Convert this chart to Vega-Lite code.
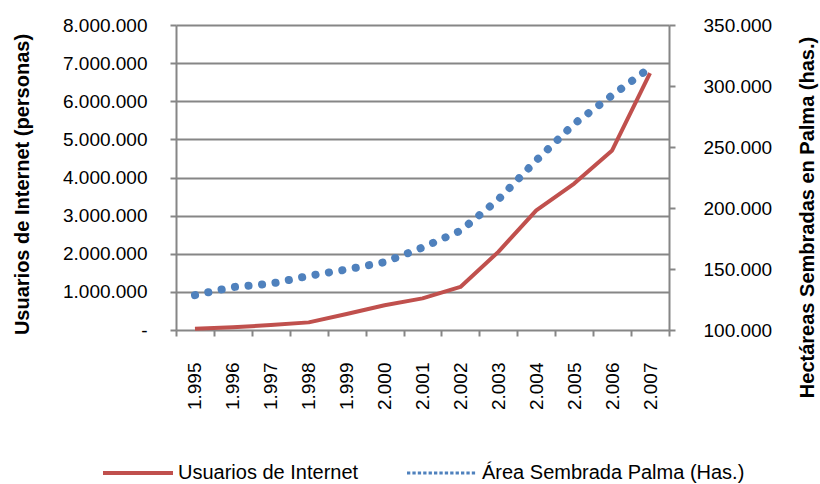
{
  "$schema": "https://vega.github.io/schema/vega-lite/v6.json",
  "width": 493,
  "height": 305,
  "autosize": {"type": "none"},
  "padding": {"left": 176, "top": 25, "right": 151, "bottom": 154},
  "background": "white",
  "config": {
    "font": "Liberation Sans",
    "view": {"stroke": null},
    "locale": {"number": {"decimal": ",", "thousands": ".", "grouping": [3], "currency": ["$", ""]}}
  },
  "data": {
    "values": [
      {"anio": "1.995", "serie": "Usuarios de Internet", "valor": 30000},
      {"anio": "1.996", "serie": "Usuarios de Internet", "valor": 70000},
      {"anio": "1.997", "serie": "Usuarios de Internet", "valor": 130000},
      {"anio": "1.998", "serie": "Usuarios de Internet", "valor": 200000},
      {"anio": "1.999", "serie": "Usuarios de Internet", "valor": 420000},
      {"anio": "2.000", "serie": "Usuarios de Internet", "valor": 650000},
      {"anio": "2.001", "serie": "Usuarios de Internet", "valor": 830000},
      {"anio": "2.002", "serie": "Usuarios de Internet", "valor": 1130000},
      {"anio": "2.003", "serie": "Usuarios de Internet", "valor": 2050000},
      {"anio": "2.004", "serie": "Usuarios de Internet", "valor": 3140000},
      {"anio": "2.005", "serie": "Usuarios de Internet", "valor": 3840000},
      {"anio": "2.006", "serie": "Usuarios de Internet", "valor": 4710000},
      {"anio": "2.007", "serie": "Usuarios de Internet", "valor": 6740000},
      {"anio": "1.995", "serie": "Área Sembrada Palma (Has.)", "valor": 128600},
      {"anio": "1.996", "serie": "Área Sembrada Palma (Has.)", "valor": 135200},
      {"anio": "1.997", "serie": "Área Sembrada Palma (Has.)", "valor": 137900},
      {"anio": "1.998", "serie": "Área Sembrada Palma (Has.)", "valor": 144400},
      {"anio": "1.999", "serie": "Área Sembrada Palma (Has.)", "valor": 149600},
      {"anio": "2.000", "serie": "Área Sembrada Palma (Has.)", "valor": 155600},
      {"anio": "2.001", "serie": "Área Sembrada Palma (Has.)", "valor": 167600},
      {"anio": "2.002", "serie": "Área Sembrada Palma (Has.)", "valor": 181300},
      {"anio": "2.003", "serie": "Área Sembrada Palma (Has.)", "valor": 207000},
      {"anio": "2.004", "serie": "Área Sembrada Palma (Has.)", "valor": 239000},
      {"anio": "2.005", "serie": "Área Sembrada Palma (Has.)", "valor": 269000},
      {"anio": "2.006", "serie": "Área Sembrada Palma (Has.)", "valor": 292300},
      {"anio": "2.007", "serie": "Área Sembrada Palma (Has.)", "valor": 315000}
    ]
  },
  "encoding": {
    "x": {
      "field": "anio",
      "type": "nominal",
      "sort": null,
      "scale": {"type": "band", "paddingInner": 0, "paddingOuter": 0},
      "bandPosition": 0.5,
      "axis": {
        "title": null,
        "labelAngle": -90,
        "labelFontSize": 19,
        "labelColor": "#000000",
        "labelPadding": 26,
        "tickBand": "extent",
        "tickSize": 6,
        "tickWidth": 2,
        "tickColor": "#868686",
        "domain": false,
        "grid": false
      }
    },
    "color": {
      "field": "serie",
      "type": "nominal",
      "scale": {
        "domain": ["Usuarios de Internet", "Área Sembrada Palma (Has.)"],
        "range": ["#C0504D", "#4F81BD"]
      },
      "legend": {
        "title": null,
        "orient": "none",
        "legendX": -48,
        "legendY": 438,
        "direction": "horizontal",
        "padding": 0,
        "columnPadding": 42,
        "symbolType": "stroke",
        "symbolSize": 4900,
        "symbolStrokeWidth": 4,
        "labelFontSize": 20,
        "labelColor": "#000000",
        "labelOffset": 30,
        "labelLimit": 400,
        "encode": {
          "symbols": {
            "update": {
              "strokeDash": {"signal": "datum.value == 'Usuarios de Internet' ? [200, 0] : [3.3, 2.1]"},
              "strokeWidth": {"signal": "datum.value == 'Usuarios de Internet' ? 4 : 3"}
            }
          }
        }
      }
    }
  },
  "layer": [
    {
      "transform": [{"filter": "datum.serie == 'Usuarios de Internet'"}],
      "mark": {"type": "line", "strokeWidth": 4, "strokeJoin": "round"},
      "encoding": {
        "y": {
          "field": "valor",
          "type": "quantitative",
          "scale": {"domain": [0, 8000000], "nice": false},
          "axis": {
            "orient": "left",
            "title": "Usuarios de Internet (personas)",
            "titleFontSize": 20,
            "titleFontWeight": "bold",
            "titleColor": "#000000",
            "titleAngle": -90,
            "titleAlign": "center",
            "titleBaseline": "middle",
            "titleX": -154,
            "titleY": 159,
            "values": [0, 1000000, 2000000, 3000000, 4000000, 5000000, 6000000, 7000000, 8000000],
            "format": ",d",
            "labelExpr": "datum.value == 0 ? '-' : datum.label",
            "labelFontSize": 19,
            "labelColor": "#000000",
            "labelPadding": 23,
            "grid": true,
            "gridColor": "#868686",
            "gridWidth": 2,
            "domainColor": "#868686",
            "domainWidth": 2,
            "tickColor": "#868686",
            "tickWidth": 2,
            "tickSize": 6
          }
        }
      }
    },
    {
      "transform": [{"filter": "datum.serie == 'Área Sembrada Palma (Has.)'"}],
      "mark": {"type": "line", "strokeWidth": 8, "strokeCap": "round", "strokeDash": [0.1, 13.5]},
      "encoding": {
        "y": {
          "field": "valor",
          "type": "quantitative",
          "scale": {"domain": [100000, 350000], "nice": false, "zero": false},
          "axis": {
            "orient": "right",
            "title": "Hectáreas Sembradas en Palma (has.)",
            "titleFontSize": 20,
            "titleFontWeight": "bold",
            "titleColor": "#000000",
            "titleAngle": -90,
            "titleAlign": "center",
            "titleBaseline": "middle",
            "titleX": 138,
            "titleY": 192,
            "values": [100000, 150000, 200000, 250000, 300000, 350000],
            "format": ",d",
            "labelFontSize": 19,
            "labelColor": "#000000",
            "labelPadding": 28,
            "grid": false,
            "domainColor": "#868686",
            "domainWidth": 2,
            "tickColor": "#868686",
            "tickWidth": 2,
            "tickSize": 6
          }
        }
      }
    }
  ],
  "resolve": {"scale": {"y": "independent"}}
}
